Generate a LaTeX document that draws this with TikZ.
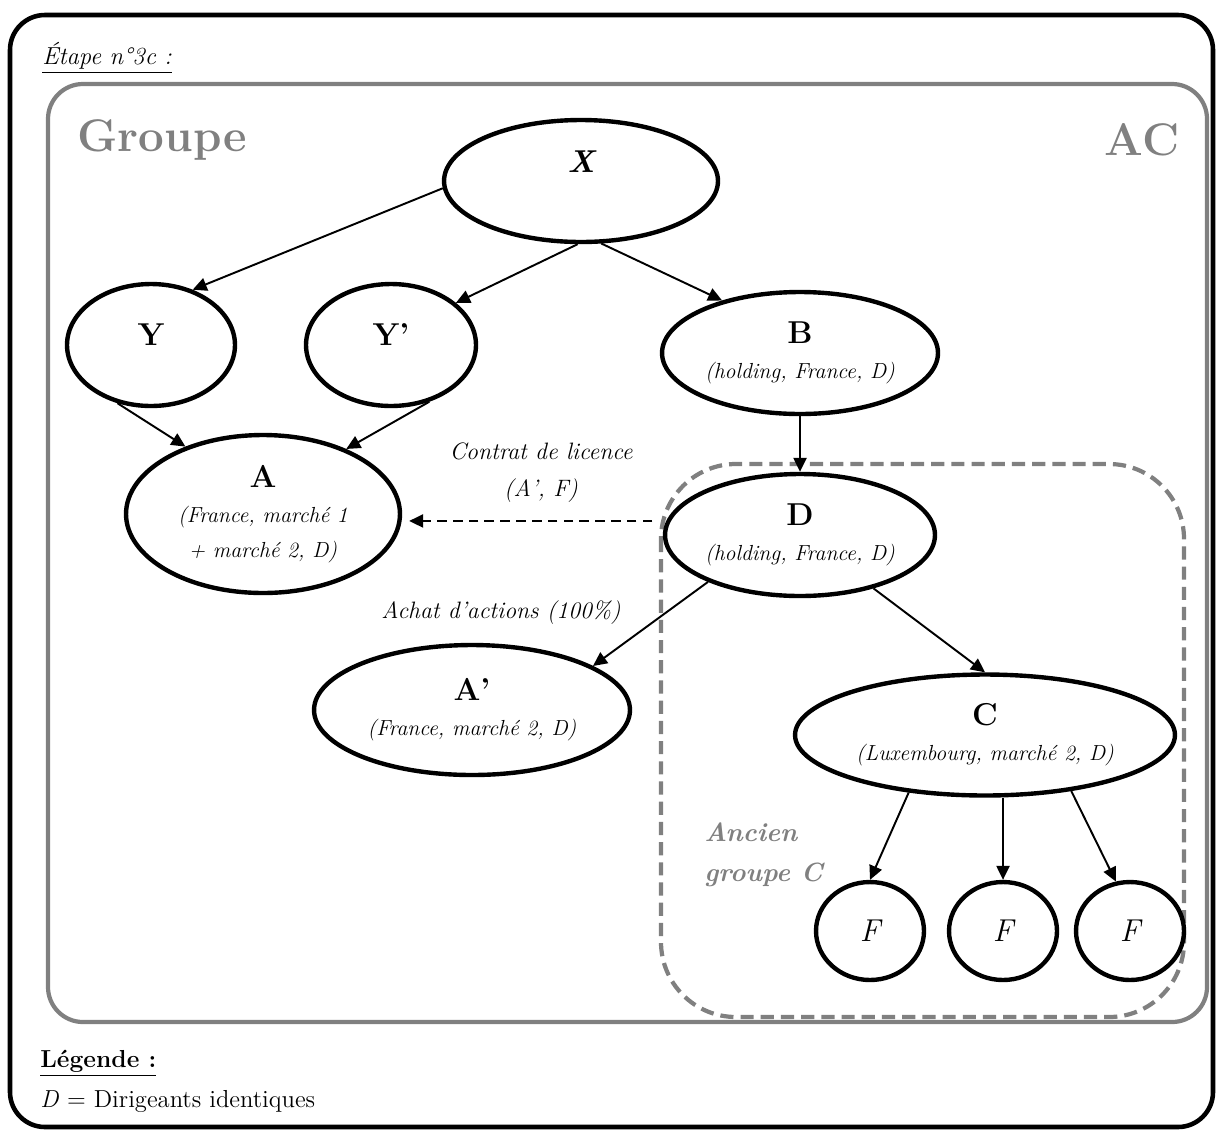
\documentclass[tikz,border=0pt]{standalone}
\usetikzlibrary{shapes.geometric,arrows.meta}

\definecolor{framegray}{RGB}{128,128,128}
\newcommand{\entname}[1]{{\fontsize{18}{20}\selectfont\upshape\bfseries #1}}

\tikzset{
	ent/.style={ellipse, draw=black, line width=2.5pt, fill=white, inner sep=0pt, align=center,
		font=\fontsize{12.4}{20}\selectfont\itshape},
	conn/.style={line width=1.1pt, -{Triangle[length=8pt,width=7.5pt]}},
	licence/.style={conn, dash pattern=on 5.5pt off 3.5pt},
	groupframe/.style={draw=framegray, line width=2.4pt, rounded corners=0.7cm},
	oldgroup/.style={draw=framegray, line width=2.4pt, dash pattern=on 7.5pt off 4pt, rounded corners=1.5cm},
	grouptitle/.style={text=framegray, font=\fontsize{26}{30}\selectfont\bfseries},
	note/.style={align=center, font=\fontsize{13.5}{21}\selectfont\itshape},
}

\begin{document}
\begin{tikzpicture}[x=0.02cm,y=-0.02cm]
	\useasboundingbox (0,0) rectangle (1219,1133);

	% frames
	\draw[line width=2.6pt, rounded corners=0.7cm] (10,15) rectangle (1213,1127);
	\draw[groupframe] (48,84) rectangle (1207,1022);
	\draw[oldgroup] (661,464) rectangle (1184,1017);

	\node[anchor=west, inner sep=0pt, font=\fontsize{14}{16}\selectfont\itshape] (etape) at (42,58) {\underline{Étape n°3c :}};
	\node[grouptitle] (groupe) at (162,140) {Groupe};
	\node[grouptitle] (ac) at (1142,140) {AC};

	% entities
	\node[ent, minimum width=5.48cm, minimum height=2.44cm, text depth=21.6pt] (X) at (581,181) {\entname{\itshape X}};
	\node[ent, minimum width=3.36cm, minimum height=2.44cm, text depth=11.4pt] (Y) at (151,345) {\entname{Y}};
	\node[ent, minimum width=3.4cm, minimum height=2.44cm, text depth=11.4pt] (Yp) at (391,345) {\entname{Y’}};
	\node[ent, minimum width=5.52cm, minimum height=2.44cm] (B) at (800,353) {\entname{B}\\(holding, France, D)};
	\node[ent, minimum width=5.48cm, minimum height=3.16cm] (A) at (263,514) {\entname{A}\\(France, marché 1\\+ marché 2, D)};
	\node[ent, minimum width=5.4cm, minimum height=2.44cm] (D) at (800,535) {\entname{D}\\(holding, France, D)};
	\node[ent, minimum width=6.32cm, minimum height=2.6cm] (Ap) at (472,710) {\entname{A’}\\(France, marché 2, D)};
	\node[ent, minimum width=7.6cm, minimum height=2.42cm] (C) at (985,735) {\entname{C}\\(Luxembourg, marché 2, D)};

	\foreach \i/\x in {1/870,2/1003,3/1130}
		\node[ent, minimum width=2.16cm, minimum height=1.96cm, font=\fontsize{18}{20}\selectfont\itshape] (F\i) at (\x,931) {F};

	% holdings
	\draw[conn] (X.183) -- (Y.53);
	\draw[conn] (X.267) -- (Yp.33);
	\draw[conn] (X.288) -- (B.146);
	\draw[conn] (Y.240) -- (A.139);
	\draw[conn] (Yp.304) -- (A.38);
	\draw[conn] (B.south) -- (D.north);
	\draw[conn] (D.207) -- (Ap.20);
	\draw[conn] (D.324) -- (C.north);

	% ancien groupe C
	\draw[conn] (C.217) -- (F1.north);
	\draw[conn] (C.south -| F2.north) -- (F2.north);
	\draw[conn] (C.327) -- (F3.106);

	% licence
	\coordinate (licA) at (A.east |- D.174);
	\draw[licence] ([xshift=-0.28cm]D.174) -- ([xshift=0.14cm]licA);

	\node[note] (contrat) at (541,473) {Contrat de licence\\(A’, F)};
	\node[note] (achat) at (501,613) {Achat d’actions (100\%)};
	\node[anchor=west, inner sep=0pt, align=left, text=framegray,
		font=\fontsize{15}{23}\selectfont\bfseries\itshape] (ancien) at (704,855) {Ancien\\groupe C};

	% legende
	\node[anchor=west, inner sep=0pt, font=\fontsize{14}{16}\selectfont\bfseries] (legende) at (40,1063) {\underline{Légende :}};
	\node[anchor=west, inner sep=0pt, font=\fontsize{14}{16}\selectfont] (dirig) at (40,1101) {\textit{D} = Dirigeants identiques};

\end{tikzpicture}
\end{document}
